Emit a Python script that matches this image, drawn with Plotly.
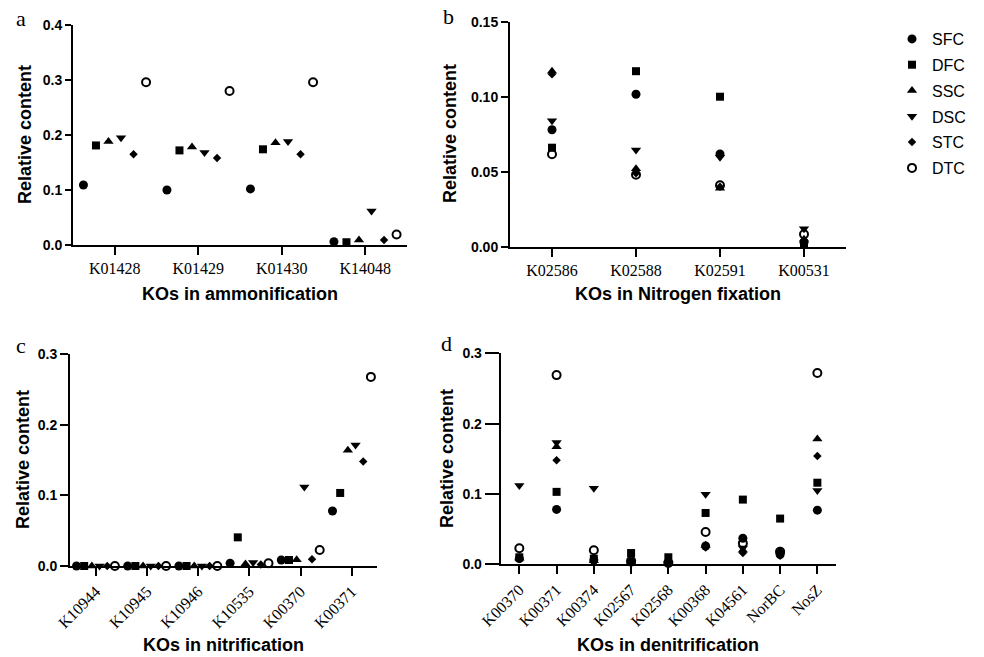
import plotly.graph_objects as go

# ---------------- data ----------------
SERIES = ["SFC", "DFC", "SSC", "DSC", "STC", "DTC"]

# Panel a: ammonification
A_KOS = ["K01428", "K01429", "K01430", "K14048"]
A_SFC = [0.109, 0.100, 0.102, 0.006]
A_DFC = [0.181, 0.172, 0.174, 0.005]
A_SSC = [0.188, 0.178, 0.186, 0.009]
A_DSC = [0.195, 0.168, 0.188, 0.062]
A_STC = [0.165, 0.158, 0.165, 0.009]
A_DTC = [0.296, 0.280, 0.296, 0.019]

# Panel b: nitrogen fixation
B_KOS = ["K02586", "K02588", "K02591", "K00531"]
B_SFC = [0.078, 0.1016, 0.0618, 0.003]
B_DFC = [0.066, 0.117, 0.100, 0.002]
B_SSC = [0.117, 0.052, 0.039, 0.005]
B_DSC = [0.084, 0.0644, 0.0596, 0.012]
B_STC = [0.115, 0.049, 0.040, 0.004]
B_DTC = [0.0616, 0.048, 0.041, 0.0083]

# Panel c: nitrification
C_KOS = ["K10944", "K10945", "K10946", "K10535", "K00370", "K00371"]
C_SFC = [0.0, 0.0, 0.0, 0.004, 0.0085, 0.078]
C_DFC = [0.0, 0.0, 0.0, 0.0406, 0.0085, 0.1035]
C_SSC = [0.0, 0.0, 0.0, 0.003, 0.009, 0.164]
C_DSC = [0.0, 0.0, 0.0, 0.005, 0.112, 0.1715]
C_STC = [0.0, 0.0, 0.0, 0.002, 0.0095, 0.148]
C_DTC = [0.0, 0.0, 0.0, 0.004, 0.0227, 0.268]

# Panel d: denitrification
D_KOS = ["K00370", "K00371", "K00374", "K02567", "K02568", "K00368", "K04561", "NorBC", "NosZ"]
D_SFC = [0.008, 0.078, 0.006, 0.003, 0.002, 0.026, 0.037, 0.014, 0.077]
D_DFC = [0.010, 0.103, 0.008, 0.016, 0.010, 0.073, 0.092, 0.065, 0.116]
D_SSC = [0.009, 0.167, 0.005, 0.004, 0.001, 0.027, 0.020, 0.019, 0.178]
D_DSC = [0.112, 0.173, 0.108, 0.002, 0.001, 0.0995, 0.023, 0.016, 0.105]
D_STC = [0.0095, 0.148, 0.004, 0.003, 0.002, 0.024, 0.016, 0.012, 0.154]
D_DTC = [0.0227, 0.269, 0.020, 0.005, 0.002, 0.046, 0.030, 0.018, 0.272]

# ---------------- styling ----------------
W, H = 984, 657
SYMBOL = {"SFC": "circle", "DFC": "square", "SSC": "triangle-up",
          "DSC": "triangle-down", "STC": "diamond", "DTC": "circle-open"}
SIZE = {"SFC": 9, "DFC": 8, "SSC": 9, "DSC": 9, "STC": 6.5, "DTC": 8}
DODGE = [-0.375, -0.225, -0.075, 0.075, 0.225, 0.375]


def px_x(p):
    return p / W


def px_y(p):
    return 1 - p / H


panels = [
    dict(kos=A_KOS, vals=[A_SFC, A_DFC, A_SSC, A_DSC, A_STC, A_DTC], dodge=True,
         xdom=[73, 407], ydom=[245, 25], yr=[0, 0.4], dt=0.1, fmt=".1f", angle=0, ytl=6),
    dict(kos=B_KOS, vals=[B_SFC, B_DFC, B_SSC, B_DSC, B_STC, B_DTC], dodge=False,
         xdom=[510, 846], ydom=[246.7, 21.7], yr=[0, 0.15], dt=0.05, fmt=".2f", angle=0, ytl=7),
    dict(kos=C_KOS, vals=[C_SFC, C_DFC, C_SSC, C_DSC, C_STC, C_DTC], dodge=True,
         xdom=[70.1, 377.3], ydom=[566, 354.3], yr=[0, 0.3], dt=0.1, fmt=".1f", angle=-45, ytl=8),
    dict(kos=D_KOS, vals=[D_SFC, D_DFC, D_SSC, D_DSC, D_STC, D_DTC], dodge=False,
         xdom=[500.7, 836.0], ydom=[564.3, 353.3], yr=[0, 0.3], dt=0.1, fmt=".1f", angle=-45, ytl=14),
]

fig = go.Figure()
layout_axes = {}
for pi, p in enumerate(panels):
    n = len(p["kos"])
    xa = "x" if pi == 0 else f"x{pi + 1}"
    ya = "y" if pi == 0 else f"y{pi + 1}"
    for si, s in enumerate(SERIES):
        off = DODGE[si] if p["dodge"] else 0.0
        xs = [k + off for k in range(n)]
        marker = dict(symbol=SYMBOL[s], size=SIZE[s], color="black")
        if s == "DTC":
            marker["line"] = dict(width=2, color="black")
        fig.add_trace(go.Scatter(
            x=xs, y=p["vals"][si], mode="markers", name=s, marker=marker,
            xaxis=xa, yaxis=ya, legendgroup=s, showlegend=(pi == 0),
            cliponaxis=False))
    xkey = "xaxis" if pi == 0 else f"xaxis{pi + 1}"
    ykey = "yaxis" if pi == 0 else f"yaxis{pi + 1}"
    layout_axes[xkey] = dict(
        domain=[px_x(p["xdom"][0]), px_x(p["xdom"][1])], anchor=ya,
        range=[-0.5, n - 0.5], tickmode="array", tickvals=list(range(n)),
        ticktext=p["kos"], tickangle=p["angle"], automargin=False,
        showline=True, linecolor="black", linewidth=2,
        ticks="outside", ticklen=8, tickwidth=2, tickcolor="black",
        showgrid=False, zeroline=False,
        tickfont=dict(family="Liberation Serif, Times New Roman, serif", size=16, color="black"))
    yr = p["yr"]
    nt = int(round((yr[1] - yr[0]) / p["dt"])) + 1
    layout_axes[ykey] = dict(
        domain=[px_y(p["ydom"][0]), px_y(p["ydom"][1])], anchor=xa,
        range=yr, tickmode="array",
        tickvals=[round(i * p["dt"], 4) for i in range(nt)],
        tickformat=p["fmt"], automargin=False,
        showline=True, linecolor="black", linewidth=2,
        ticks="outside", ticklen=p["ytl"], tickwidth=2, tickcolor="black",
        showgrid=False, zeroline=False,
        tickfont=dict(family="Liberation Sans, Arial, sans-serif", size=14,
                      color="black", weight="bold"))

fig.update_layout(**layout_axes)

title_font = dict(family="Liberation Sans, Arial, sans-serif", size=18, color="black", weight="bold")
letter_font = dict(family="Liberation Serif, Times New Roman, serif", size=22, color="black")

annotations = []
# x-axis titles
for txt, cx, cy in [("KOs in ammonification", 240, 294),
                    ("KOs in Nitrogen fixation", 678, 294),
                    ("KOs in nitrification", 223, 645),
                    ("KOs in denitrification", 668, 645)]:
    annotations.append(dict(text=txt, x=px_x(cx), y=px_y(cy), xref="paper", yref="paper",
                            xanchor="center", yanchor="middle", showarrow=False, font=title_font))
# y-axis titles
for cx, cy in [(25, 135), (450, 134), (23, 460), (447, 459)]:
    annotations.append(dict(text="Relative content", x=px_x(cx), y=px_y(cy), xref="paper",
                            yref="paper", xanchor="center", yanchor="middle", textangle=-90,
                            showarrow=False, font=title_font))
# panel letters
for txt, cx, cy in [("a", 21, 19), ("b", 448, 16), ("c", 21, 345), ("d", 446, 343)]:
    annotations.append(dict(text=txt, x=px_x(cx), y=px_y(cy), xref="paper", yref="paper",
                            xanchor="center", yanchor="middle", showarrow=False, font=letter_font))

fig.update_layout(
    width=W, height=H, autosize=False,
    margin=dict(l=0, r=0, t=0, b=0, autoexpand=False),
    paper_bgcolor="white", plot_bgcolor="white",
    annotations=annotations,
    showlegend=True,
    legend=dict(x=px_x(892), y=px_y(22), xanchor="left", yanchor="top",
                font=dict(family="Liberation Sans, Arial, sans-serif", size=16, color="black"),
                bgcolor="rgba(0,0,0,0)", tracegroupgap=2, itemclick=False),
)

fig.write_html("out.html", config={"displayModeBar": False},
               post_script="document.body.style.margin='0';document.body.style.padding='0';")
